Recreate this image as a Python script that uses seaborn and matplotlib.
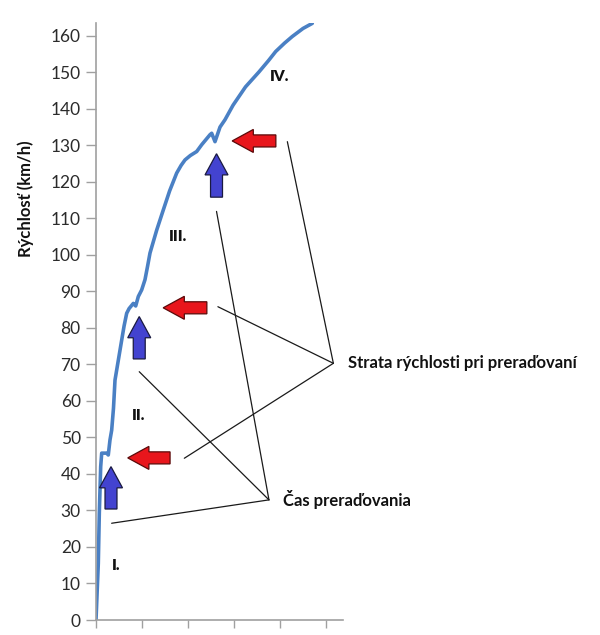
import matplotlib
matplotlib.use("Agg")
import matplotlib.pyplot as plt
import seaborn as sns
from pandas import DataFrame

# acceleration curve (time in s, speed in km/h)
time_s = [0, 0.5, 0.72, 1.02, 1.24, 2.32, 2.67, 3.04, 3.41, 3.8, 4.13,
          4.9, 5.59, 6.1, 6.67, 7.2, 8.11, 8.63, 9.2, 9.93, 10.65, 11.2,
          11.74, 13.2, 14.63, 16.0, 17.54, 18.5, 19.35, 20.5, 21.89, 23.0,
          24.78, 25.15, 25.87, 26.96, 28.04, 29.8, 32.5, 35.43, 37.5,
          39.07, 41.0, 42.67, 45.0, 47.02]
speed_kmh = [0, 15.5, 29.3, 42, 45.7, 45.7, 45.2, 49.3, 52, 58, 65.7,
             71.5, 76.7, 80.5, 84, 85.3, 86.7, 86, 88.6, 90.4, 93.2, 96.8,
             100.5, 106.8, 112.3, 117.5, 122.4, 124.5, 126, 127.2, 128.3,
             130.2, 132.9, 133.3, 131, 135, 137, 141, 146, 150.1, 153.2,
             155.7, 158.0, 159.8, 162.0, 163.4]

yticks = list(range(0, 161, 10))
xticks = [0, 10, 20, 30, 40, 50]

# gear-change markers
shift_x = [3.26, 9.4, 26.2]          # blue arrows (shift time)
shift_base = [30.4, 71.5, 115.8]
shift_tip = [42.0, 83.1, 127.7]
loss_y = [44.4, 85.5, 131.2]          # red arrows (speed loss)
loss_tip = [6.9, 14.6, 29.6]
loss_tail = [16.1, 24.1, 39.1]

gear_labels = ["I.", "II.", "III.", "IV."]
gear_x = [4.3, 9.3, 17.9, 40.0]
gear_y = [15.0, 55.9, 105.0, 148.9]

time_note = "Čas preraďovania"
time_note_xy = (37.6, 32.9)
time_note_ends = [(3.4, 26.5), (9.4, 68.0), (26.2, 111.9)]
loss_note = "Strata rýchlosti pri preraďovaní"
loss_note_xy = (51.6, 70.3)
loss_note_ends = [(19.2, 44.3), (26.5, 85.8), (41.6, 131.0)]

sns.set_style("white")
plt.rcParams["font.family"] = ["Lato", "DejaVu Sans"]

fig = plt.figure(figsize=(6, 6.35), dpi=100)
ax = fig.add_axes([0.16, 0.0236, 0.4117, 0.9402])

df = DataFrame({"t": time_s, "v": speed_kmh})
sns.lineplot(data=df, x="t", y="v", ax=ax, color="#4a80c4", linewidth=2.6,
             sort=False, estimator=None)

ax.set_xlim(0, 53.7)
ax.set_ylim(0, 163.5)
ax.set_yticks(yticks)
ax.set_xticks(xticks)
ax.set_xticklabels([])
ax.set_xlabel("")
ax.set_ylabel("Rýchlosť (km/h)", fontsize=12, fontweight="bold",
              color="#111111")
ax.yaxis.set_label_coords(-0.25, 0.705)
ax.tick_params(axis="y", labelsize=12.5, labelcolor="#2b2b2b", length=7,
               width=1, color="#a0a0a0", left=True, direction="out", pad=4)
ax.tick_params(axis="x", length=6, width=1, color="#a0a0a0", bottom=True,
               direction="out")
for side in ["top", "right"]:
    ax.spines[side].set_visible(False)
for side in ["left", "bottom"]:
    ax.spines[side].set_color("#a0a0a0")
    ax.spines[side].set_linewidth(1.2)

# blue arrows pointing up
for x, b, t in zip(shift_x, shift_base, shift_tip):
    ax.arrow(x, b, 0, t - b, width=2.6, head_width=5.0, head_length=5.8,
             length_includes_head=True, fc="#4343d0", ec="#1a1a40",
             linewidth=0.9, zorder=5, clip_on=False)

# red arrows pointing left
for y, tip, tail in zip(loss_y, loss_tip, loss_tail):
    ax.arrow(tail, y, tip - tail, 0, width=3.3, head_width=6.3,
             head_length=4.6, length_includes_head=True, fc="#e8161c",
             ec="#5a0a0a", linewidth=0.9, zorder=5, clip_on=False)

for lab, x, y in zip(gear_labels, gear_x, gear_y):
    ax.text(x, y, lab, ha="center", va="center", fontsize=11,
            fontweight="heavy", color="#111111")

for (ex, ey) in time_note_ends:
    ax.plot([time_note_xy[0], ex], [time_note_xy[1], ey], color="#1a1a1a",
            linewidth=0.9, clip_on=False, zorder=4)
for (ex, ey) in loss_note_ends:
    ax.plot([loss_note_xy[0], ex], [loss_note_xy[1], ey], color="#1a1a1a",
            linewidth=0.9, clip_on=False, zorder=4)

ax.text(40.65, time_note_xy[1], time_note, ha="left", va="center",
        fontsize=12, fontweight="bold", color="#111111", clip_on=False)
ax.text(54.8, loss_note_xy[1], loss_note, ha="left", va="center",
        fontsize=12, fontweight="bold", color="#111111", clip_on=False)

fig.savefig("out.png", dpi=100)
